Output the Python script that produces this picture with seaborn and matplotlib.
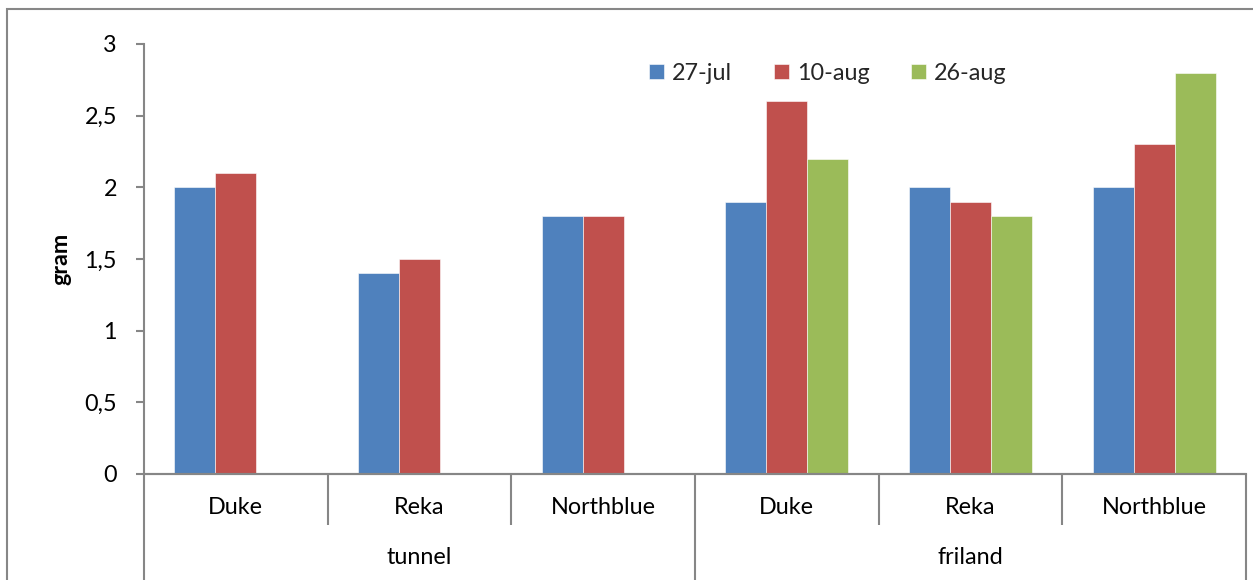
import matplotlib
matplotlib.use("Agg")
import matplotlib.pyplot as plt
from matplotlib.patches import Rectangle
import seaborn as sns
import pandas as pd
import numpy as np

# Grouped values: site group, cultivar, sampling date
groups = ["tunnel", "tunnel", "tunnel", "friland", "friland", "friland"]
cultivars = ["Duke", "Reka", "Northblue", "Duke", "Reka", "Northblue"]
dates = ["27-jul", "10-aug", "26-aug"]
jul27 = [2.0, 1.4, 1.8, 1.9, 2.0, 2.0]
aug10 = [2.1, 1.5, 1.8, 2.6, 1.9, 2.3]
aug26 = [np.nan, np.nan, np.nan, 2.2, 1.8, 2.8]
y_ticks = [0, 0.5, 1, 1.5, 2, 2.5, 3]
y_tick_labels = ["0", "0,5", "1", "1,5", "2", "2,5", "3"]
colors = ["#4F81BD", "#C0504D", "#9BBB59"]

keys = [f"{g}|{c}" for g, c in zip(groups, cultivars)]
rows = []
for series, vals in zip(dates, [jul27, aug10, aug26]):
    for k, v in zip(keys, vals):
        rows.append({"key": k, "date": series, "gram": v})
df = pd.DataFrame(rows).dropna()

sns.set_theme(style="white")
plt.rcParams["font.family"] = ["Lato", "DejaVu Sans"]

FS = 16.8
W, H = 1253, 580
AX_L, AX_R, AX_B, AX_T = 144, 1246, 474, 44
fig = plt.figure(figsize=(W / 100, H / 100), dpi=100)
ax = fig.add_axes([AX_L / W, 1 - AX_B / H, (AX_R - AX_L) / W, (AX_B - AX_T) / H])

sns.barplot(data=df, x="key", y="gram", hue="date", order=keys, hue_order=dates,
            palette=colors, width=0.67, saturation=1, ax=ax, legend=True,
            edgecolor="white", linewidth=0.4)

ax.set_xlim(-0.5, len(keys) - 0.5)
ax.set_ylim(0, 3)
ax.set_yticks(y_ticks)
ax.set_yticklabels(y_tick_labels, fontsize=FS, color="black")
ax.set_xticks([])
ax.set_xlabel("")
ax.set_ylabel("gram", fontsize=FS, fontweight="bold", color="black")
ax.yaxis.set_label_coords((71 - AX_L) / (AX_R - AX_L), 0.5)

axis_color = "#868686"
for side in ["top", "right"]:
    ax.spines[side].set_visible(False)
for side in ["left", "bottom"]:
    ax.spines[side].set_color(axis_color)
    ax.spines[side].set_linewidth(1.5)
ax.tick_params(axis="y", which="both", left=True, length=5.5, width=1.5,
               color=axis_color, pad=14, direction="out")

# Two-level category axis
trans = ax.get_xaxis_transform()
span = AX_B - AX_T
row1 = (AX_B - 525) / span
row2 = (AX_B - 580) / span
for b in np.arange(-0.5, len(keys), 1.0):
    idx = int(b + 0.5)
    is_group_edge = idx in (0, 3, 6)
    ax.plot([b, b], [0, row2 if is_group_edge else row1], transform=trans,
            color=axis_color, lw=1.5, clip_on=False, solid_capstyle="butt")
ax.plot([-0.5, 5.5], [0, 0], transform=trans, color=axis_color, lw=1.5, clip_on=False)
for i, c in enumerate(cultivars):
    ax.text(i, (AX_B - 508) / span, c, transform=trans, ha="center", va="center",
            fontsize=FS, color="black")
for g, centre in [("tunnel", 1.0), ("friland", 4.0)]:
    ax.text(centre, (AX_B - 558) / span, g, transform=trans, ha="center", va="center",
            fontsize=FS, color="black")

handles, labels = ax.get_legend_handles_labels()
ax.legend(handles, labels, loc="center", bbox_to_anchor=(828 / W, 1 - 73 / H),
          bbox_transform=fig.transFigure, ncol=3, frameon=False, fontsize=FS,
          handlelength=0.62, handleheight=0.62, handletextpad=0.35, columnspacing=1.8)

# Chart area outline
fig.patches.append(Rectangle((7 / W, -0.05), 1.1, 1 - 9 / H + 0.05, transform=fig.transFigure,
                             fill=False, edgecolor="#878787", lw=1.5))

fig.savefig("out.png", dpi=100)
